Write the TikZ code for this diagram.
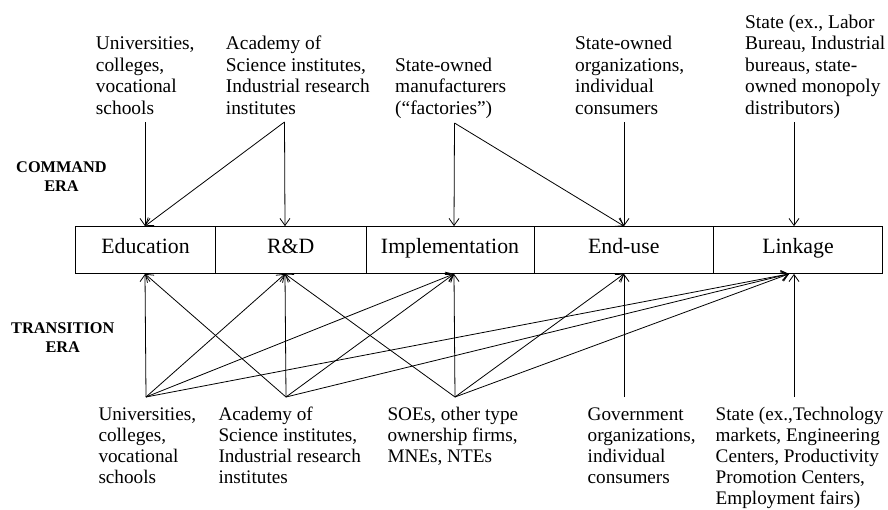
\documentclass[tikz,border=0pt]{standalone}
\usepackage{fontspec}
\setmainfont{Liberation Serif}
\usetikzlibrary{arrows.meta}
\begin{document}
\begin{tikzpicture}[x=1pt,y=-1pt,
  cell/.style={draw, line width=0.8pt, minimum height=47pt, inner sep=0pt,
    text height=10pt, text depth=3pt, font=\fontsize{21.8}{24}\selectfont},
  toplab/.style={anchor=base west, inner sep=0pt, font=\fontsize{19.4}{21.4}\selectfont},
  botlab/.style={anchor=base west, inner sep=0pt, font=\fontsize{19.2}{21}\selectfont},
  era/.style={anchor=base, inner sep=0pt, font=\fontsize{16.3}{19.2}\selectfont\bfseries},
  arr/.style={line width=0.8pt, -{Straight Barb[length=7pt,width=10pt]}}]
\useasboundingbox (0,0) rectangle (888,509);

% process boxes
\node[cell, minimum width=139.6pt] (edu)    at (145.5,250)  {Education};
\node[cell, minimum width=150.7pt] (rd)     at (290.65,250) {R\&D};
\node[cell, minimum width=168pt]   (impl)   at (450,250)    {Implementation};
\node[cell, minimum width=179.5pt] (enduse) at (623.75,250) {End-use};
\node[cell, minimum width=169pt]   (link)   at (798,250)    {Linkage};

% era labels
\node[era] (cmd) at (61.5,172) {\begin{tabular}[t]{@{}c@{}}COMMAND\\ERA\end{tabular}};
\node[era] (trn) at (62.8,333) {\begin{tabular}[t]{@{}c@{}}TRANSITION\\ERA\end{tabular}};

% command era actors
\node[toplab] (tU) at (95.7,114) {\begin{tabular}[b]{@{}l@{}}Universities,\\colleges,\\vocational\\schools\end{tabular}};
\node[toplab] (tA) at (225.7,114) {\begin{tabular}[b]{@{}l@{}}Academy of\\Science institutes,\\Industrial research\\institutes\end{tabular}};
\node[toplab] (tM) at (395,114) {\begin{tabular}[b]{@{}l@{}}State-owned\\manufacturers\\(“factories”)\end{tabular}};
\node[toplab] (tO) at (575,114) {\begin{tabular}[b]{@{}l@{}}State-owned\\organizations,\\individual\\consumers\end{tabular}};
\node[toplab] (tS) at (745,114) {\begin{tabular}[b]{@{}l@{}}State (ex., Labor\\Bureau, Industrial\\bureaus, state-\\owned monopoly\\distributors)\end{tabular}};

% transition era actors
\node[botlab] (bU) at (98.3,420) {\begin{tabular}[t]{@{}l@{}}Universities,\\colleges,\\vocational\\schools\end{tabular}};
\node[botlab] (bA) at (218.3,420) {\begin{tabular}[t]{@{}l@{}}Academy of\\Science institutes,\\Industrial research\\institutes\end{tabular}};
\node[botlab] (bS) at (387.3,420) {\begin{tabular}[t]{@{}l@{}}SOEs, other type\\ownership firms,\\MNEs, NTEs\end{tabular}};
\node[botlab] (bG) at (587.5,420) {\begin{tabular}[t]{@{}l@{}}Government\\organizations,\\individual\\consumers\end{tabular}};
\node[botlab] (bT) at (715.5,420) {\begin{tabular}[t]{@{}l@{}}State (ex.,Technology\\markets, Engineering\\Centers, Productivity\\Promotion Centers,\\Employment fairs)\end{tabular}};

% connector end points
\coordinate (cU) at (145,122);
\coordinate (cA) at (284.5,122);
\coordinate (cM) at (454.5,123);
\coordinate (cO) at (624,122);
\coordinate (cS) at (794,122);
\coordinate (dU) at (146,397);
\coordinate (dA) at (286,397);
\coordinate (dS) at (455,397);
\coordinate (dG) at (624,397);
\coordinate (dT) at (794,397);
\coordinate (xE) at (145,0);
\coordinate (xR) at (285,0);
\coordinate (xI) at (454,0);
\coordinate (xN) at (624,0);
\coordinate (xL) at (789,0);
\coordinate (xLv) at (794,0);

% command era connectors
\draw[arr] (cU) -- (edu.north -| xE);
\draw[arr] (cA) -- (rd.north -| xR);
\draw[arr] (cA) -- (edu.north -| xE);
\draw[arr] (cM) -- (impl.north -| xI);
\draw[arr] (cM) -- (enduse.north -| xN);
\draw[arr] (cO) -- (enduse.north -| xN);
\draw[arr] (cS) -- (link.north -| xLv);

% transition era connectors
\draw[arr] (dU) -- (edu.south -| xE);
\draw[arr] (dU) -- (rd.south -| xR);
\draw[arr] (dU) -- (impl.south -| xI);
\draw[arr] (dU) -- (link.south -| xL);
\draw[arr] (dA) -- (rd.south -| xR);
\draw[arr] (dA) -- (edu.south -| xE);
\draw[arr] (dA) -- (impl.south -| xI);
\draw[arr] (dA) -- (link.south -| xL);
\draw[arr] (dS) -- (impl.south -| xI);
\draw[arr] (dS) -- (rd.south -| xR);
\draw[arr] (dS) -- (enduse.south -| xN);
\draw[arr] (dS) -- (link.south -| xL);
\draw[arr] (dG) -- (enduse.south -| xN);
\draw[arr] (dT) -- (link.south -| xLv);
\end{tikzpicture}
\end{document}
